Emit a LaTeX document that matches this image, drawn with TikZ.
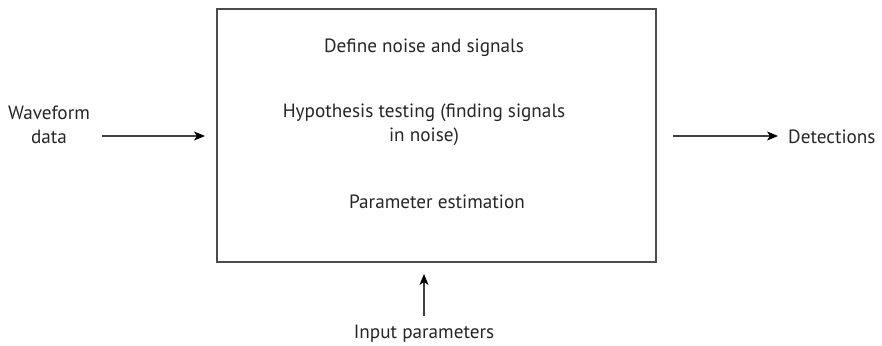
\documentclass[tikz,border=0pt]{standalone}
\usepackage{fontspec}
\setmainfont{PT Sans}
\usetikzlibrary{arrows.meta}
\begin{document}
\begin{tikzpicture}[x=1pt,y=-1pt,
  lbl/.style={font=\fontsize{19.2}{24}\selectfont, inner sep=0pt, align=center, text=black!85},
  arr/.style={line width=1.5pt, draw=black!75, -{Stealth[length=11pt,width=9pt,inset=3pt,black]}},
  mainbox/.style={draw=black!70, line width=1.8pt, inner sep=0pt}]
\useasboundingbox (0,0) rectangle (882,345);
\node[mainbox, minimum width=439pt, minimum height=253pt] (box) at (436.5,135.5) {};
\node[lbl] (t1) at (424,48) {Define noise and signals};
\node[lbl] (t2) at (424,125) {Hypothesis testing (finding signals\\in noise)};
\node[lbl] (t3) at (437,202) {Parameter estimation};
\node[lbl] (wave) at (49,125) {Waveform\\data};
\node[lbl, anchor=west] (det) at (788,137) {Detections};
\node[lbl] (inp) at (424,334) {Input parameters};
\coordinate (ls) at (102,136);
\coordinate (le) at (205,136);
\coordinate (rs) at (673,136);
\coordinate (re) at (778,136);
\coordinate (bs) at (424,316);
\coordinate (be) at (424,274);
\draw[arr] (ls) -- (le);
\draw[arr] (rs) -- (re);
\draw[arr] (bs) -- (be);
\end{tikzpicture}
\end{document}
